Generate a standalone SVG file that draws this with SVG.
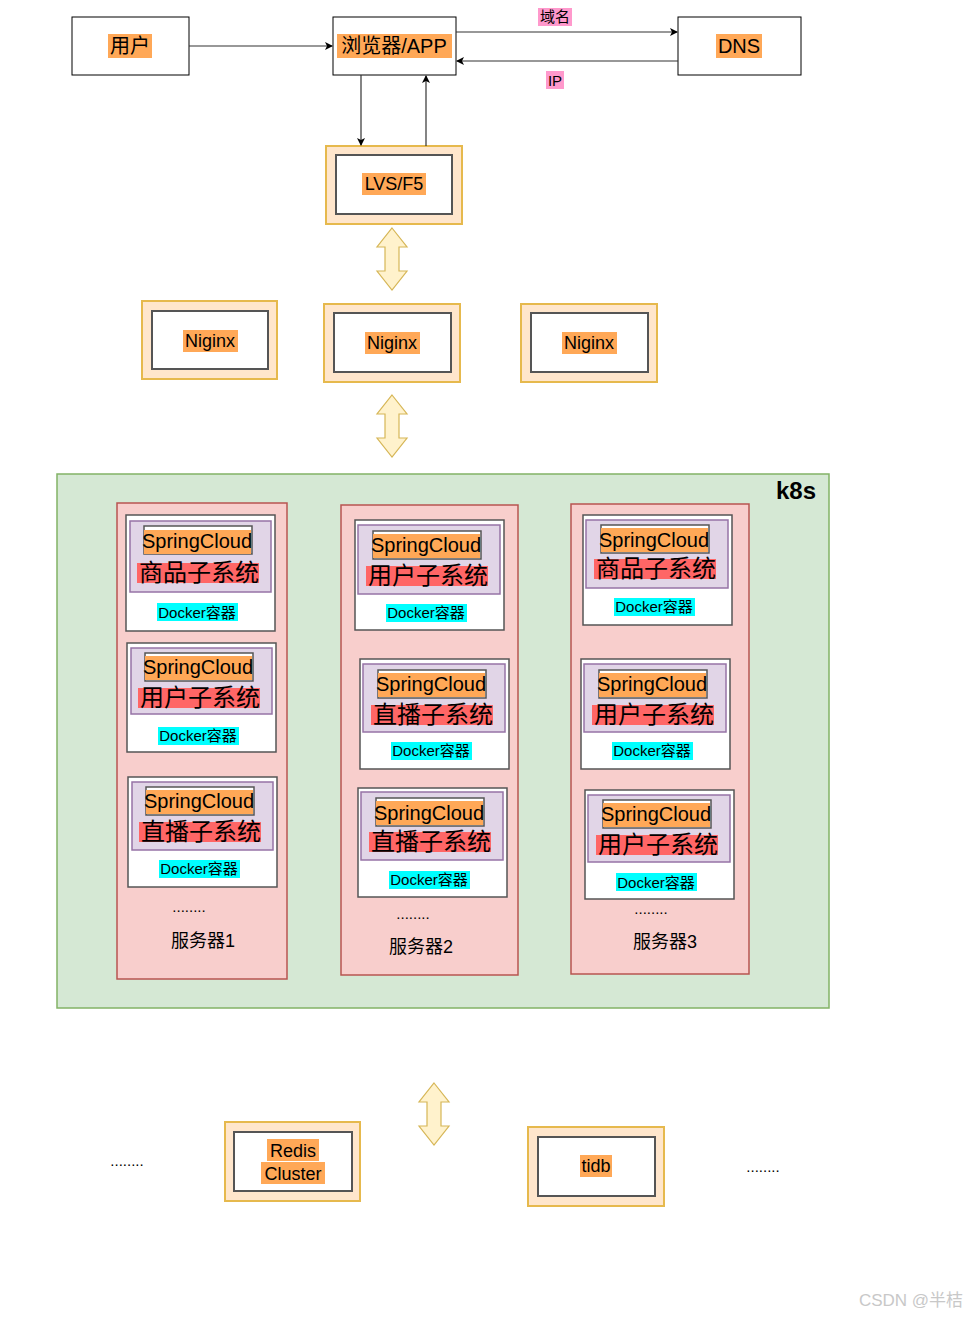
<svg xmlns="http://www.w3.org/2000/svg" xmlns:xlink="http://www.w3.org/1999/xlink" width="969" height="1317" viewBox="0 0 969 1317">
<style>
text{font-family:"Liberation Sans","Noto Sans CJK SC",sans-serif;text-anchor:middle;fill:#000}
.plain{fill:#fff;stroke:#000;stroke-width:1}
.pad{fill:#ffe6cc;stroke:#e6b94d;stroke-width:2}
.inb{fill:#fff;stroke:#555;stroke-width:2}
.srv{fill:#f8cecc;stroke:#b85450;stroke-width:1.5}
.dock{fill:#fff;stroke:#555;stroke-width:1.5}
.lav{fill:#e1d5e7;stroke:#9673a6;stroke-width:1.5}
.lbl{fill:#fff;stroke:#555;stroke-width:1.5}
.ora{fill:#ffa857}
.red{fill:#ff6666}
.cy{fill:#00ffff}
.pk{fill:#ff99cc}
.ln{stroke:#333;stroke-width:1.2;fill:none;marker-end:url(#ah)}
.fat{fill:#fff2cc;stroke:#d6b656;stroke-width:1.2}
.t20{font-size:20px}.t24{font-size:24px}.t15{font-size:15px}.t18{font-size:18px}
</style>
<defs>
<marker id="ah" markerWidth="8" markerHeight="8" refX="7" refY="4" orient="auto" markerUnits="userSpaceOnUse"><path d="M0,0 L8,4 L0,8 L2,4 Z" fill="#000"/></marker>
<polygon id="dbl" class="fat" points="0,-31 15,-12 7,-12 7,12 15,12 0,31 -15,12 -7,12 -7,-12 -15,-12"/>
</defs>
<g id="user"><rect class="plain" x="72" y="17" width="117" height="58"/><rect class="ora" x="108" y="34" width="44" height="24"/><text class="t20" x="130" y="53">用户</text></g>
<g id="browser"><rect class="plain" x="333" y="17" width="123" height="58"/><rect class="ora" x="337" y="34" width="115" height="24"/><text class="t20" x="394" y="53">浏览器/APP</text></g>
<g id="dns"><rect class="plain" x="678" y="17" width="123" height="58"/><rect class="ora" x="716" y="34" width="46" height="24"/><text class="t20" x="739" y="53">DNS</text></g>
<g id="lvs"><rect class="pad" x="326" y="146" width="136" height="78"/><rect class="inb" x="336" y="155" width="116" height="59"/><rect class="ora" x="362" y="173" width="64" height="22"/><text class="t18" x="394" y="190">LVS/F5</text></g>
<g id="nginx1"><rect class="pad" x="142" y="301" width="135" height="78"/><rect class="inb" x="152" y="311" width="116" height="58"/><rect class="ora" x="183" y="330" width="55" height="22"/><text class="t18" x="210" y="347">Niginx</text></g>
<g id="nginx2"><rect class="pad" x="324" y="304" width="136" height="78"/><rect class="inb" x="334" y="313" width="117" height="59"/><rect class="ora" x="365" y="332" width="55" height="22"/><text class="t18" x="392" y="349">Niginx</text></g>
<g id="nginx3"><rect class="pad" x="521" y="304" width="136" height="78"/><rect class="inb" x="531" y="313" width="117" height="59"/><rect class="ora" x="562" y="332" width="55" height="22"/><text class="t18" x="589" y="349">Niginx</text></g>
<g id="k8s"><rect x="57" y="474" width="772" height="534" fill="#d5e8d4" stroke="#82b366" stroke-width="1.5"/><text x="796" y="499" style="font-size:24px;font-weight:bold">k8s</text></g>

<g id="server1"><rect class="srv" x="117" y="503" width="170" height="476"/><text class="t15" x="189" y="912">........</text><text class="t18" x="203" y="947">服务器1</text></g>
<g id="server2"><rect class="srv" x="341" y="505" width="177" height="470"/><text class="t15" x="413" y="919">........</text><text class="t18" x="421" y="953">服务器2</text></g>
<g id="server3"><rect class="srv" x="571" y="504" width="178" height="470"/><text class="t15" x="651" y="914">........</text><text class="t18" x="665" y="948">服务器3</text></g>

<g id="d11" transform="translate(126,515)"><rect class="dock" width="149" height="116"/><rect class="lav" x="4" y="6" width="141" height="71"/><rect class="lbl" x="18" y="11" width="108" height="28"/><rect class="ora" x="18" y="15" width="107" height="24"/><rect class="red" x="11" y="48" width="122" height="20"/><text class="t20" x="71" y="33">SpringCloud</text><text class="t24" x="73" y="66">商品子系统</text><rect class="cy" x="31" y="88" width="81" height="18"/><text class="t15" x="71" y="103">Docker容器</text></g>
<g id="d12" transform="translate(127,643)"><rect class="dock" width="149" height="109"/><rect class="lav" x="4" y="5" width="141" height="66"/><rect class="lbl" x="18" y="10" width="108" height="28"/><rect class="ora" x="18" y="13" width="107" height="24"/><rect class="red" x="11" y="45" width="122" height="20"/><text class="t20" x="71" y="31">SpringCloud</text><text class="t24" x="73" y="63">用户子系统</text><rect class="cy" x="31" y="84" width="81" height="18"/><text class="t15" x="71" y="98">Docker容器</text></g>
<g id="d13" transform="translate(128,777)"><rect class="dock" width="149" height="110"/><rect class="lav" x="4" y="5" width="141" height="68"/><rect class="lbl" x="18" y="10" width="108" height="28"/><rect class="ora" x="18" y="13" width="107" height="24"/><rect class="red" x="11" y="45" width="122" height="20"/><text class="t20" x="71" y="31">SpringCloud</text><text class="t24" x="73" y="63">直播子系统</text><rect class="cy" x="31" y="83" width="81" height="18"/><text class="t15" x="71" y="97">Docker容器</text></g>

<g id="d21" transform="translate(355,520)"><rect class="dock" width="149" height="110"/><rect class="lav" x="3" y="5" width="142" height="69"/><rect class="lbl" x="18" y="11" width="108" height="28"/><rect class="ora" x="18" y="14" width="107" height="24"/><rect class="red" x="11" y="46" width="122" height="20"/><text class="t20" x="71" y="32">SpringCloud</text><text class="t24" x="73" y="64">用户子系统</text><rect class="cy" x="31" y="84" width="81" height="18"/><text class="t15" x="71" y="98">Docker容器</text></g>
<g id="d22" transform="translate(360,659)"><rect class="dock" width="149" height="110"/><rect class="lav" x="3" y="5" width="142" height="68"/><rect class="lbl" x="18" y="11" width="108" height="28"/><rect class="ora" x="18" y="14" width="107" height="24"/><rect class="red" x="11" y="46" width="122" height="20"/><text class="t20" x="71" y="32">SpringCloud</text><text class="t24" x="73" y="64">直播子系统</text><rect class="cy" x="31" y="83" width="81" height="18"/><text class="t15" x="71" y="97">Docker容器</text></g>
<g id="d23" transform="translate(358,788)"><rect class="dock" width="149" height="109"/><rect class="lav" x="3" y="4" width="142" height="68"/><rect class="lbl" x="18" y="10" width="108" height="28"/><rect class="ora" x="18" y="13" width="107" height="24"/><rect class="red" x="11" y="44" width="122" height="20"/><text class="t20" x="71" y="32">SpringCloud</text><text class="t24" x="73" y="62">直播子系统</text><rect class="cy" x="31" y="83" width="81" height="18"/><text class="t15" x="71" y="97">Docker容器</text></g>

<g id="d31" transform="translate(583,515)"><rect class="dock" width="149" height="110"/><rect class="lav" x="3" y="5" width="142" height="68"/><rect class="lbl" x="18" y="10" width="108" height="28"/><rect class="ora" x="18" y="13" width="107" height="24"/><rect class="red" x="11" y="44" width="122" height="20"/><text class="t20" x="71" y="32">SpringCloud</text><text class="t24" x="73" y="62">商品子系统</text><rect class="cy" x="31" y="83" width="81" height="18"/><text class="t15" x="71" y="97">Docker容器</text></g>
<g id="d32" transform="translate(581,659)"><rect class="dock" width="149" height="110"/><rect class="lav" x="3" y="5" width="142" height="68"/><rect class="lbl" x="18" y="11" width="108" height="28"/><rect class="ora" x="18" y="14" width="107" height="24"/><rect class="red" x="11" y="46" width="122" height="20"/><text class="t20" x="71" y="32">SpringCloud</text><text class="t24" x="73" y="64">用户子系统</text><rect class="cy" x="31" y="83" width="81" height="18"/><text class="t15" x="71" y="97">Docker容器</text></g>
<g id="d33" transform="translate(585,790)"><rect class="dock" width="149" height="109"/><rect class="lav" x="3" y="5" width="142" height="67"/><rect class="lbl" x="18" y="10" width="108" height="28"/><rect class="ora" x="18" y="13" width="107" height="24"/><rect class="red" x="11" y="45" width="122" height="20"/><text class="t20" x="71" y="31">SpringCloud</text><text class="t24" x="73" y="63">用户子系统</text><rect class="cy" x="31" y="83" width="81" height="18"/><text class="t15" x="71" y="98">Docker容器</text></g>

<g id="redis"><rect class="pad" x="225" y="1122" width="135" height="79"/><rect class="inb" x="234" y="1132" width="118" height="59"/><rect class="ora" x="267" y="1139" width="52" height="22"/><rect class="ora" x="261" y="1162" width="64" height="22"/><text class="t18" x="293" y="1157">Redis</text><text class="t18" x="293" y="1180">Cluster</text></g>
<g id="tidb"><rect class="pad" x="528" y="1127" width="136" height="79"/><rect class="inb" x="538" y="1137" width="117" height="59"/><rect class="ora" x="580" y="1155" width="32" height="22"/><text class="t18" x="596" y="1172">tidb</text></g>
<text class="t15" x="127" y="1166">........</text>
<text class="t15" x="763" y="1172">........</text>

<g id="connectors">
<line class="ln" x1="189" y1="46" x2="332" y2="46"/>
<line class="ln" x1="456" y1="32" x2="677" y2="32"/>
<line class="ln" x1="678" y1="61" x2="457" y2="61"/>
<line class="ln" x1="361" y1="75" x2="361" y2="145"/>
<line class="ln" x1="426" y1="146" x2="426" y2="76"/>
<rect class="pk" x="538" y="8" width="34" height="18"/><text class="t15" x="555" y="22">域名</text>
<rect class="pk" x="546" y="71" width="18" height="18"/><text class="t15" x="555" y="86">IP</text>
<use xlink:href="#dbl" x="392" y="259"/>
<use xlink:href="#dbl" x="392" y="426"/>
<use xlink:href="#dbl" x="434" y="1114" transform="translate(0,0)"/>
</g>
<text x="911" y="1306" style="font-size:17px;fill:#c8c8c8">CSDN @半桔</text>
</svg>
